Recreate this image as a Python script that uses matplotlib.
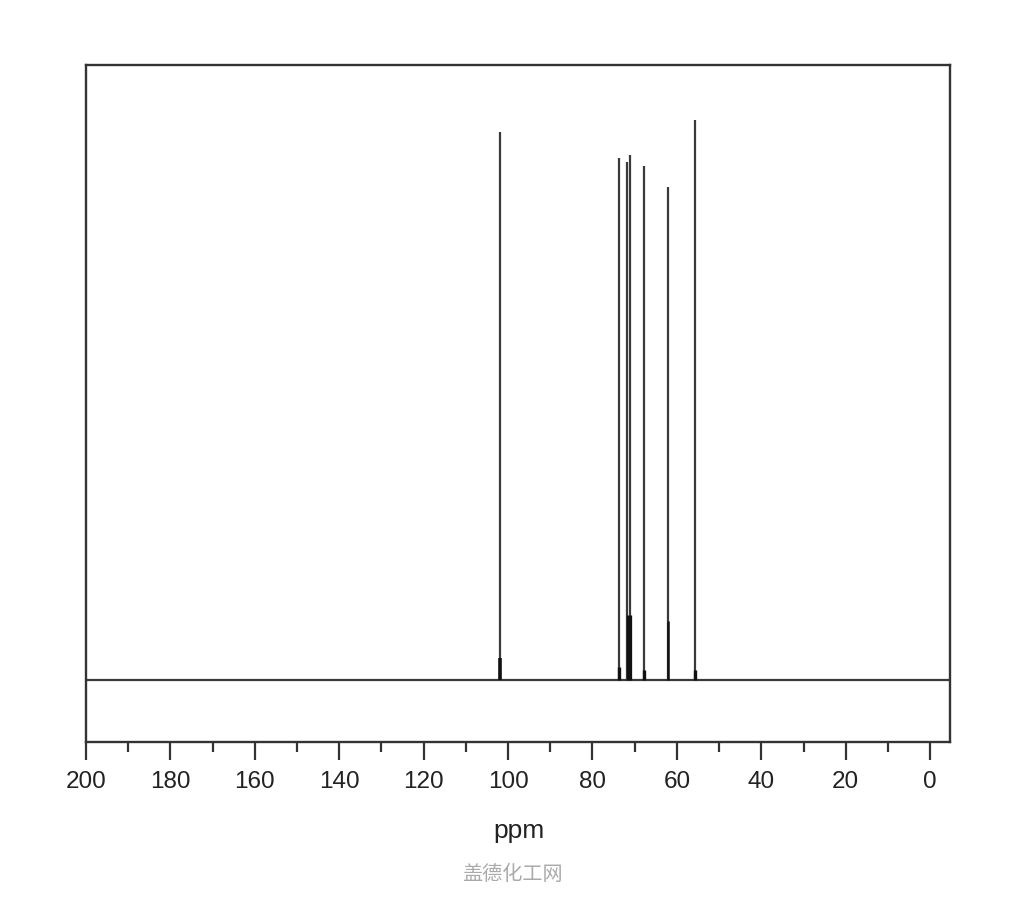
import numpy as np
import matplotlib.pyplot as plt
from matplotlib.ticker import MultipleLocator

# 13C NMR peaks (ppm) and heights above baseline (arbitrary units)
peak_ppm = [101.8, 73.7, 71.9, 71.1, 67.8, 62.0, 55.8]
peak_height = [548, 522, 518, 525, 514, 493, 560]

# darker / broader lower part of each peak
foot_ppm = [101.8, 73.7, 71.45, 67.8, 62.0, 55.8]
foot_height = [22, 13, 65, 10, 59, 10]
foot_width = [2.6, 2.4, 3.8, 2.4, 1.8, 2.4]

major_ticks = [0, 20, 40, 60, 80, 100, 120, 140, 160, 180, 200]
x_label = "ppm"
watermark = "盖德化工网"

plt.rcParams['font.family'] = ['Liberation Sans', 'DejaVu Sans']

fig = plt.figure(figsize=(10.24, 9.0), dpi=100)
ax = fig.add_axes([86 / 1024, 1 - 742 / 900, (950 - 86) / 1024, (742 - 65) / 900])

line_col = '#3a3a3a'
ax.axhline(0, color=line_col, lw=1.6, zorder=2)
ax.vlines(peak_ppm, 0, peak_height, color=line_col, lw=1.6, zorder=3)
for p, h, w in zip(foot_ppm, foot_height, foot_width):
    ax.vlines(p, 0, h, color='#111111', lw=w, zorder=4)

ax.set_xlim(200, -4.7)
ax.set_ylim(-62, 615)

ax.xaxis.set_major_locator(MultipleLocator(20))
ax.xaxis.set_minor_locator(MultipleLocator(10))
ax.set_xticks(major_ticks)
ax.set_xticklabels([str(t) for t in major_ticks])
ax.tick_params(axis='x', which='major', direction='out', length=13, width=1.6,
               color='#333333', labelsize=17.5, pad=8, labelcolor='#222222')
ax.tick_params(axis='x', which='minor', direction='out', length=7, width=1.6,
               color='#333333')
ax.set_yticks([])

for s in ax.spines.values():
    s.set_color('#333333')
    s.set_linewidth(1.7)

fig.text(519 / 1024, 1 - 831 / 900, x_label, ha='center', va='center',
         fontsize=19, color='#222222')
fig.text(512 / 1024, 1 - 874 / 900, watermark, ha='center', va='center',
         fontsize=14.5, color='#aaaaaa', family=['Noto Sans CJK SC', 'DejaVu Sans'])

fig.savefig('out.png', dpi=100)
